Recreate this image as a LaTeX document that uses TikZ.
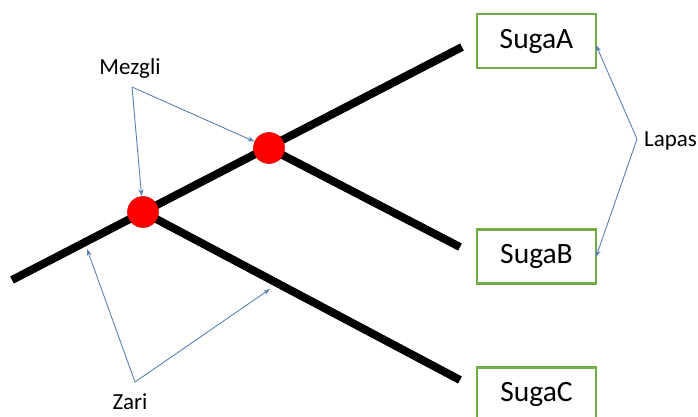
\documentclass[tikz,border=0pt]{standalone}
\usepackage{fontspec}
\setmainfont{Carlito}
\usetikzlibrary{arrows.meta}
\definecolor{boxgreen}{HTML}{70AD47}
\definecolor{arrowblue}{HTML}{5A82B0}
\tikzset{
  branch/.style={line width=8pt, black, line cap=butt},
  dotnode/.style={circle, fill=red, draw=red!85!black, line width=0.6pt, minimum size=31pt, inner sep=0pt},
  leafbox/.style={draw=boxgreen, line width=2.6pt, minimum width=119pt, minimum height=54pt, inner sep=0pt, font=\fontsize{29.5}{32}\selectfont},
  lbl/.style={inner sep=0pt, font=\fontsize{23}{25}\selectfont},
  pointer/.style={draw=arrowblue, line width=0.9pt, -{Stealth[length=7pt,width=5pt]}}
}
\begin{document}
\begin{tikzpicture}[x=1pt, y=-1pt]
\useasboundingbox (0,0) rectangle (698,417);
\begin{scope}
\clip (0,0) rectangle (698,417);
% line end points
\coordinate (L) at (12,280);
\coordinate (T) at (462,47);
\coordinate (E1) at (460,247);
\coordinate (E2) at (460,380);
% boxes
\node[leafbox] (A) at (536.5,41) {SugaA};
\node[leafbox] (B) at (536.5,256.5) {SugaB};
\node[leafbox] (C) at (536.5,394.5) {SugaC};
% thick lines
\coordinate (d1c) at (269,148);
\coordinate (d2c) at (143,212);
\draw[branch] (L) -- (T);
\draw[branch] (d1c) -- (E1);
\draw[branch] (d2c) -- (E2);
% dots
\node[dotnode] (D1) at (d1c) {};
\node[dotnode] (D2) at (d2c) {};
% labels
\node[lbl] (mezgli) at (130,68) {Mezgli};
\node[lbl] (zari) at (130,402) {Zari};
\node[lbl, anchor=west] (lapas) at (644,141) {Lapas};
% pointer bases
\coordinate (mz) at (132,87);
\coordinate (zr) at (135,382);
\coordinate (lp) at (637,139);
\coordinate (z1) at (87,249);
\coordinate (z2) at (270,289);
\coordinate (la) at (596,45);
\coordinate (lb) at (596,257);
\draw[pointer] (mz) -- (D2);
\draw[pointer] (mz) -- (D1);
\draw[pointer] (zr) -- (z1);
\draw[pointer] (zr) -- (z2);
\draw[pointer] (lp) -- (la);
\draw[pointer] (lp) -- (lb);
\end{scope}
\end{tikzpicture}
\end{document}
